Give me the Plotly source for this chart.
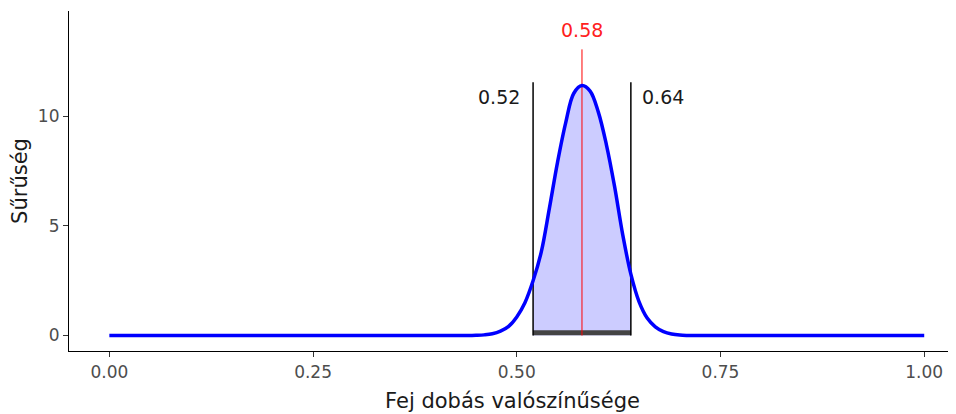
import plotly.graph_objects as go

# ---- data ----
density_x = [0.00, 0.30, 0.40, 0.44, 0.45, 0.46, 0.47, 0.48, 0.49, 0.50, 0.51, 0.52,
             0.53, 0.54, 0.55, 0.56, 0.57, 0.58, 0.59, 0.60, 0.61, 0.62,
             0.63, 0.64, 0.65, 0.66, 0.67, 0.68, 0.69, 0.70, 0.71, 0.72, 0.80, 1.00]
density_y = [0.00, 0.00, 0.00, 0.00, 0.01, 0.03, 0.08, 0.20, 0.42, 0.85, 1.50, 2.50,
             3.80, 5.80, 7.90, 9.70, 11.05, 11.40, 11.15, 10.20, 8.70, 6.80,
             4.60, 2.80, 1.55, 0.80, 0.40, 0.18, 0.07, 0.02, 0.005, 0.00, 0.00, 0.00]

interval_bounds = [0.52, 0.64]
interval_labels = ["0.52", "0.64"]
mode_value = 0.58
mode_label = "0.58"

interval_line_top = 11.55
mode_line_top = 13.05
interval_label_y = 10.86
mode_label_y = 13.95
bar_y = 0.13

x_ticks = [0.0, 0.25, 0.5, 0.75, 1.0]
x_ticktext = ["0.00", "0.25", "0.50", "0.75", "1.00"]
y_ticks = [0, 5, 10]
y_ticktext = ["0", "5", "10"]

x_title = "Fej dobás valószínűsége"
y_title = "Sűrűség"

FONT = "DejaVu Sans"

lo, hi = interval_bounds
shade_x = [x for x in density_x if lo - 1e-9 <= x <= hi + 1e-9]
shade_y = [y for x, y in zip(density_x, density_y) if lo - 1e-9 <= x <= hi + 1e-9]

fig = go.Figure()

# shaded credible interval
fig.add_trace(go.Scatter(
    x=shade_x, y=shade_y, mode="lines", fill="tozeroy",
    fillcolor="rgba(0,0,255,0.2)", line=dict(width=0, shape="spline", smoothing=1.0),
    hoverinfo="skip", showlegend=False))

# bottom interval bar
fig.add_trace(go.Scatter(
    x=interval_bounds, y=[bar_y, bar_y], mode="lines",
    line=dict(color="#444444", width=5), showlegend=False, hoverinfo="skip"))

# interval vertical lines
for b in interval_bounds:
    fig.add_trace(go.Scatter(
        x=[b, b], y=[0, interval_line_top], mode="lines",
        line=dict(color="black", width=1.5), showlegend=False, hoverinfo="skip"))

# mode line
fig.add_trace(go.Scatter(
    x=[mode_value, mode_value], y=[0, mode_line_top], mode="lines",
    line=dict(color="red", width=1), showlegend=False, hoverinfo="skip"))

# density curve
fig.add_trace(go.Scatter(
    x=density_x, y=density_y, mode="lines",
    line=dict(color="#0000FF", width=3.5, shape="spline", smoothing=1.0),
    showlegend=False))

annotations = [
    dict(x=interval_bounds[0], y=interval_label_y, text=interval_labels[0],
         xanchor="right", yanchor="middle", xshift=-11, showarrow=False,
         font=dict(family=FONT, size=19, color="#1a1a1a")),
    dict(x=interval_bounds[1], y=interval_label_y, text=interval_labels[1],
         xanchor="left", yanchor="middle", xshift=9, showarrow=False,
         font=dict(family=FONT, size=19, color="#1a1a1a")),
    dict(x=mode_value, y=mode_label_y, text=mode_label,
         xanchor="center", yanchor="middle", showarrow=False,
         font=dict(family=FONT, size=19, color="#ff2020")),
]

# the page body adds an 8px offset, so the figure is 8px smaller in each direction
fig.update_layout(
    template="none",
    width=948, height=406,
    margin=dict(l=61, r=0, t=3, b=62.5, autoexpand=False),
    paper_bgcolor="white", plot_bgcolor="white",
    font=dict(family=FONT),
    annotations=annotations,
    xaxis=dict(
        automargin=False,
        range=[-0.0495, 1.039], tickvals=x_ticks, ticktext=x_ticktext,
        showline=True, linecolor="black", linewidth=1.2,
        ticks="outside", ticklen=5, tickcolor="#333333", tickwidth=1.2,
        tickfont=dict(family=FONT, size=17, color="#4D4D4D"),
        showgrid=False, zeroline=False,
        title=dict(text=x_title, font=dict(family=FONT, size=21, color="#1a1a1a"), standoff=12),
    ),
    yaxis=dict(
        automargin=False,
        range=[-0.705, 14.8], tickvals=y_ticks, ticktext=y_ticktext,
        showline=True, linecolor="black", linewidth=1.2,
        ticks="outside", ticklen=5, tickcolor="#333333", tickwidth=1.2,
        tickfont=dict(family=FONT, size=17, color="#4D4D4D"),
        showgrid=False, zeroline=False,
        title=dict(text=y_title, font=dict(family=FONT, size=21, color="#1a1a1a"), standoff=8),
    ),
)

fig.write_html("out.html")
